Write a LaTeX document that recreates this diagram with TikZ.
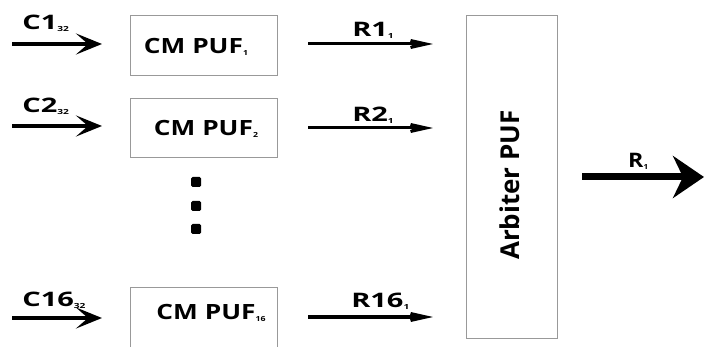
\documentclass[tikz,border=0pt]{standalone}
\usepackage{fontspec}
\setmainfont{Open Sans}[BoldFont={Open Sans Bold}]
\usetikzlibrary{arrows.meta}
\newcommand{\smallsub}[1]{\raisebox{-1.5pt}{\fontsize{7}{7}\selectfont #1}}
\tikzset{
  pufbox/.style={draw=black!40, line width=0.8pt, rectangle, inner sep=0pt},
  inarrow/.style={line width=3.5pt, -{Stealth[length=26pt,width=21pt,inset=12pt]}},
  rarrow/.style={line width=3pt, -{Stealth[length=38pt,width=17pt,inset=20pt]}},
  outarrow/.style={line width=7pt, -{Stealth[length=31pt,width=42pt,inset=10pt]}},
  lbl/.style={font=\bfseries\fontsize{20}{20}\selectfont, inner sep=0pt, xscale=1.45, transform shape},
  boxtxt/.style={font=\bfseries\fontsize{21}{21}\selectfont, inner sep=0pt, xscale=1.25, transform shape},
  dotsq/.style={fill=black, rounded corners=1.5pt, minimum width=10pt, minimum height=10pt, inner sep=0pt},
}
\begin{document}
\begin{tikzpicture}[x=1pt,y=-1pt]
\useasboundingbox (0,0) rectangle (704,347);
% CM PUF boxes
\draw[pufbox] (130,15) rectangle (277,75);
\draw[pufbox] (130,98) rectangle (277,157);
\draw[pufbox] (130,287) rectangle (277,350);
\node[boxtxt] (p1) at (196,47) {CM PUF\smallsub{1}};
\node[boxtxt] (p2) at (206,129) {CM PUF\smallsub{2}};
\node[boxtxt] (p16) at (211,313) {CM PUF\smallsub{16}};
% arbiter
\node[pufbox, minimum width=91pt, minimum height=323pt] (arb) at (511.5,176.5) {};
\node[font=\bfseries\fontsize{26}{26}\selectfont, rotate=90, inner sep=0pt] (arbt) at (510,185) {Arbiter PUF};
% dots
\node[dotsq] (d1) at (196,182) {};
\node[dotsq] (d2) at (196,206) {};
\node[dotsq] (d3) at (196,229) {};
% input arrows
\coordinate (c1s) at (12,44); \coordinate (c1e) at (102,44);
\coordinate (c2s) at (12,126); \coordinate (c2e) at (102,126);
\coordinate (c16s) at (12,318); \coordinate (c16e) at (102,318);
\draw[inarrow] (c1s) -- (c1e);
\draw[inarrow] (c2s) -- (c2e);
\draw[inarrow] (c16s) -- (c16e);
\node[lbl, anchor=base west] (lc1) at (22,30) {C1\smallsub{32}};
\node[lbl, anchor=base west] (lc2) at (22,113) {C2\smallsub{32}};
\node[lbl, anchor=base west] (lc16) at (22,307) {C16\smallsub{32}};
% R arrows
\coordinate (r1s) at (308,44); \coordinate (r1e) at (433,44);
\coordinate (r2s) at (308,128); \coordinate (r2e) at (433,128);
\coordinate (r16s) at (308,317); \coordinate (r16e) at (433,317);
\draw[rarrow] (r1s) -- (r1e);
\draw[rarrow] (r2s) -- (r2e);
\draw[rarrow] (r16s) -- (r16e);
\node[lbl, anchor=base west] (lr1) at (352,37) {R1\smallsub{1}};
\node[lbl, anchor=base west] (lr2) at (352,122) {R2\smallsub{1}};
\node[lbl, anchor=base west] (lr16) at (351,308) {R16\smallsub{1}};
% output
\coordinate (os) at (582,177); \coordinate (oe) at (704,177);
\draw[outarrow] (os) -- (oe);
\node[lbl, anchor=base west, xscale=0.8] (lro) at (628,168) {R\smallsub{1}};
\end{tikzpicture}
\end{document}
